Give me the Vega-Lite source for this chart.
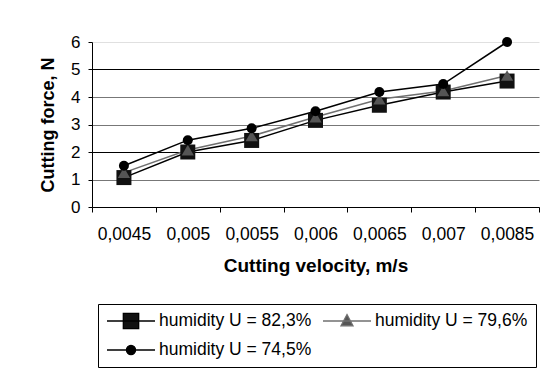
{
  "$schema": "https://vega.github.io/schema/vega-lite/v6.json",
  "autosize": {"type": "none"},
  "padding": {"left": 92, "top": 42, "right": 4, "bottom": 165},
  "width": 447,
  "height": 165,
  "background": "white",
  "config": {
    "view": {"stroke": null},
    "font": "Liberation Sans",
    "axis": {"labelFont": "Liberation Sans", "titleFont": "Liberation Sans", "labelColor": "#000", "titleColor": "#000", "domainColor": "#000", "tickColor": "#000", "domainWidth": 1, "tickWidth": 1},
    "legend": {"labelFont": "Liberation Sans"}
  },
  "data": {
    "values": [
      {"v": "0,0045", "h": "humidity U = 82,3%", "f": 1.07},
      {"v": "0,005", "h": "humidity U = 82,3%", "f": 2.0},
      {"v": "0,0055", "h": "humidity U = 82,3%", "f": 2.42},
      {"v": "0,006", "h": "humidity U = 82,3%", "f": 3.15},
      {"v": "0,0065", "h": "humidity U = 82,3%", "f": 3.7},
      {"v": "0,007", "h": "humidity U = 82,3%", "f": 4.18},
      {"v": "0,0085", "h": "humidity U = 82,3%", "f": 4.58},
      {"v": "0,0045", "h": "humidity U = 79,6%", "f": 1.25},
      {"v": "0,005", "h": "humidity U = 79,6%", "f": 2.07},
      {"v": "0,0055", "h": "humidity U = 79,6%", "f": 2.58},
      {"v": "0,006", "h": "humidity U = 79,6%", "f": 3.27},
      {"v": "0,0065", "h": "humidity U = 79,6%", "f": 3.92},
      {"v": "0,007", "h": "humidity U = 79,6%", "f": 4.22},
      {"v": "0,0085", "h": "humidity U = 79,6%", "f": 4.78},
      {"v": "0,0045", "h": "humidity U = 74,5%", "f": 1.5},
      {"v": "0,005", "h": "humidity U = 74,5%", "f": 2.43},
      {"v": "0,0055", "h": "humidity U = 74,5%", "f": 2.86},
      {"v": "0,006", "h": "humidity U = 74,5%", "f": 3.48},
      {"v": "0,0065", "h": "humidity U = 74,5%", "f": 4.18},
      {"v": "0,007", "h": "humidity U = 74,5%", "f": 4.47},
      {"v": "0,0085", "h": "humidity U = 74,5%", "f": 6.0}
    ]
  },
  "encoding": {
    "x": {
      "field": "v", "type": "ordinal",
      "sort": ["0,0045", "0,005", "0,0055", "0,006", "0,0065", "0,007", "0,0085"],
      "scale": {"type": "band", "paddingInner": 0, "paddingOuter": 0},
      "axis": {
        "title": "Cutting velocity, m/s", "titleFontSize": 19, "titleFontWeight": "bold", "titlePadding": 14,
        "labelAngle": 0, "labelFontSize": 17.5, "labelPadding": 13, "tickSize": 5, "tickBand": "extent", "grid": false
      }
    },
    "y": {
      "field": "f", "type": "quantitative",
      "scale": {"domain": [0, 6], "nice": false, "zero": true},
      "axis": {
        "title": "Cutting force, N", "titleFontSize": 18, "titleFontWeight": "bold", "titlePadding": 13,
        "values": [0, 1, 2, 3, 4, 5, 6], "labelFontSize": 17, "labelPadding": 8, "tickSize": 4,
        "grid": true, "gridWidth": 1,
        "gridColor": {"condition": [{"test": "datum.value === 6", "value": "#e0e0e0"}, {"test": "datum.value === 5 || datum.value === 2", "value": "#000"}], "value": "#777"}
      }
    }
  },
  "layer": [
    {
      "mark": {"type": "line", "strokeWidth": 1.5},
      "encoding": {
        "color": {
          "field": "h", "type": "nominal",
          "scale": {"domain": ["humidity U = 74,5%", "humidity U = 79,6%", "humidity U = 82,3%"], "range": ["#000", "#707070", "#000"]},
          "legend": null
        }
      }
    },
    {
      "transform": [{"filter": "datum.h === 'humidity U = 82,3%'"}],
      "mark": {"type": "point", "shape": "square", "filled": true, "opacity": 1, "size": 225, "color": "#111"}
    },
    {
      "transform": [{"filter": "datum.h === 'humidity U = 79,6%'"}],
      "mark": {"type": "point", "shape": "triangle-up", "filled": true, "opacity": 1, "size": 150, "color": "#555"}
    },
    {
      "transform": [{"filter": "datum.h === 'humidity U = 74,5%'"}],
      "mark": {"type": "point", "shape": "circle", "filled": true, "opacity": 1, "size": 100, "color": "#000"}
    },
    {
      "transform": [{"filter": "false"}],
      "mark": {"type": "point", "filled": true, "opacity": 1, "stroke": "#000", "strokeWidth": 1.3},
      "encoding": {
        "shape": {
          "field": "h", "type": "nominal",
          "scale": {"domain": ["humidity U = 82,3%", "humidity U = 79,6%", "humidity U = 74,5%"], "range": ["M-1,0H1M-0.32,-0.32H0.32V0.32H-0.32Z", "M-1,0H1M0,-0.27L0.25,0.2H-0.25Z", "M-1,0H1M-0.19,0A0.19,0.19,0,1,0,0.19,0A0.19,0.19,0,1,0,-0.19,0Z"]},
          "legend": {
            "title": null, "orient": "none", "legendX": 6, "legendY": 262, "columns": 2, "direction": "horizontal",
            "strokeColor": "#000", "padding": 8, "fillColor": "white",
            "symbolSize": 2304, "clipHeight": 18, "rowPadding": 11, "columnPadding": 10, "labelOffset": 3,
            "labelFontSize": 17.5, "labelColor": "#000", "labelLimit": 300, "symbolStrokeWidth": 1.3, "symbolOpacity": 1
          }
        },
        "fill": {
          "field": "h", "type": "nominal",
          "scale": {"domain": ["humidity U = 82,3%", "humidity U = 79,6%", "humidity U = 74,5%"], "range": ["#111", "#555", "#000"]},
          "legend": {
            "title": null, "orient": "none", "legendX": 6, "legendY": 262, "columns": 2, "direction": "horizontal",
            "strokeColor": "#000", "padding": 8, "fillColor": "white",
            "symbolSize": 2304, "clipHeight": 18, "rowPadding": 11, "columnPadding": 10, "labelOffset": 3,
            "labelFontSize": 17.5, "labelColor": "#000", "labelLimit": 300, "symbolStrokeWidth": 1.3, "symbolOpacity": 1
          }
        },
        "stroke": {
          "field": "h", "type": "nominal",
          "scale": {"domain": ["humidity U = 82,3%", "humidity U = 79,6%", "humidity U = 74,5%"], "range": ["#000", "#707070", "#000"]},
          "legend": {
            "title": null, "orient": "none", "legendX": 6, "legendY": 262, "columns": 2, "direction": "horizontal",
            "strokeColor": "#000", "padding": 8, "fillColor": "white",
            "symbolSize": 2304, "clipHeight": 18, "rowPadding": 11, "columnPadding": 10, "labelOffset": 3,
            "labelFontSize": 17.5, "labelColor": "#000", "labelLimit": 300, "symbolStrokeWidth": 1.3, "symbolOpacity": 1
          }
        }
      }
    }
  ]
}
